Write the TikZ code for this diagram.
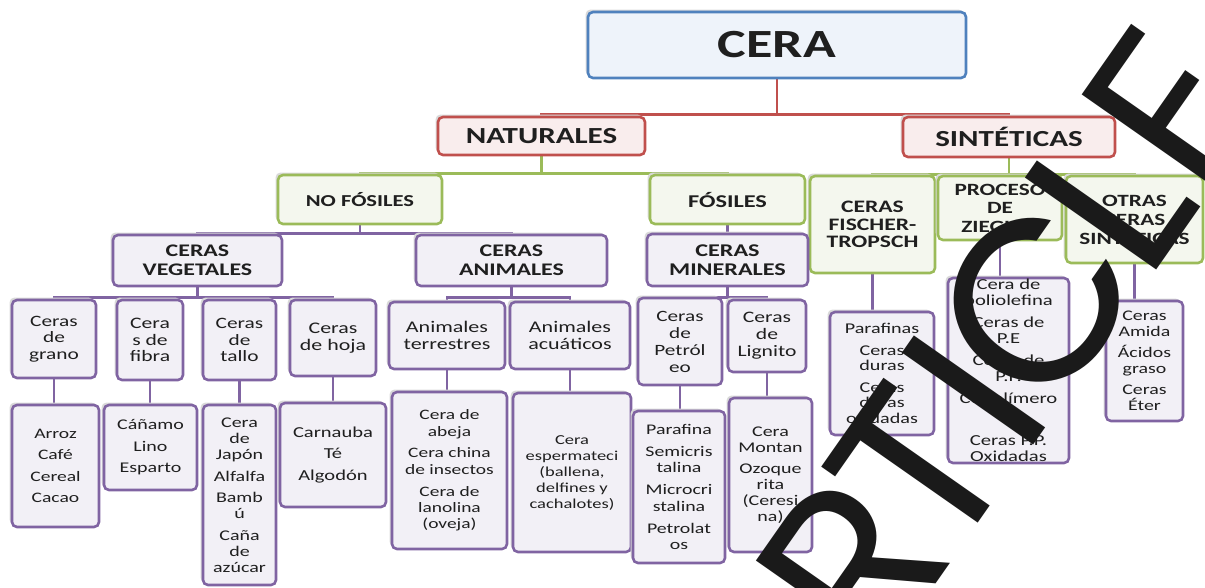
\documentclass[tikz,border=0pt]{standalone}
\usepackage{fontspec}
\setmainfont{Carlito}[FakeStretch=1.35]
\newfontfamily\wmfont{Poppins}
\usetikzlibrary{backgrounds,shadows}
\definecolor{bborder}{HTML}{4F81BD}
\definecolor{bfill}{HTML}{EEF3FA}
\definecolor{rborder}{HTML}{C0504D}
\definecolor{rfill}{HTML}{F9EDED}
\definecolor{gborder}{HTML}{9BBB59}
\definecolor{gfill}{HTML}{F4F7EE}
\definecolor{pborder}{HTML}{8064A2}
\definecolor{pfill}{HTML}{F2F0F6}
\definecolor{txt}{HTML}{1F1F1F}
\definecolor{wmcol}{HTML}{1A1A1A}
\begin{document}
\begin{tikzpicture}[x=1pt,y=-1pt,
  box/.style={draw, rounded corners=5pt, line width=2.6pt, align=center, inner sep=0pt, text=txt,
    general shadow={fill=black!15, shadow xshift=-2.5pt, shadow yshift=2.5pt}},
  bluebox/.style={box, draw=bborder, fill=bfill},
  redbox/.style={box, draw=rborder, fill=rfill},
  greenbox/.style={box, draw=gborder, fill=gfill},
  purplebox/.style={box, draw=pborder, fill=pfill},
  conn/.style={line width=2.6pt},
  rconn/.style={conn, draw=rborder},
  gconn/.style={conn, draw=gborder},
  pconn/.style={conn, draw=pborder},
  fs/.style 2 args={font=\fontsize{#1}{#2}\selectfont},
  fb/.style 2 args={font=\fontsize{#1}{#2}\selectfont\bfseries},
  wm/.style={font=\fontsize{230}{230}\selectfont\wmfont, text=wmcol, rotate=55, anchor=base, inner sep=0pt}
]
\useasboundingbox (0,0) rectangle (1205,587);
\clip (0,0) rectangle (1205,587);
% level 0-1
\node[bluebox, fb={40}{44}, minimum width=378, minimum height=66] (cera) at (777,45) {CERA};
\node[redbox, fb={23}{26}, minimum width=207, minimum height=38] (nat) at (541.5,136) {NATURALES};
\node[redbox, fb={23}{26}, minimum width=212, minimum height=40] (sint) at (1009,137) {SINTÉTICAS};
% level 2
\node[greenbox, fb={16.7}{19}, minimum width=164, minimum height=49] (nofos) at (360,199.5) {NO FÓSILES};
\node[greenbox, fb={18}{19}, minimum width=155, minimum height=49] (fos) at (727.5,199.5) {FÓSILES};
\node[greenbox, fb={17.5}{17.8}, minimum width=125, minimum height=97] (fischer) at (872.5,224.5) {CERAS\\FISCHER-\\TROPSCH};
\node[greenbox, fb={17.2}{18.5}, minimum width=124, minimum height=64] (ziegler) at (1000,208) {PROCESO\\DE\\ZIEGLER};
\node[greenbox, fb={17.2}{19}, minimum width=137, minimum height=87] (otras) at (1134.5,219.5) {OTRAS\\CERAS\\SINTÉTICAS};
% level 3
\node[purplebox, fb={17.7}{18.5}, minimum width=169, minimum height=51] (veg) at (197.5,260.5) {CERAS\\VEGETALES};
\node[purplebox, fb={17.7}{18.5}, minimum width=191, minimum height=51] (ani) at (511.5,260.5) {CERAS\\ANIMALES};
\node[purplebox, fb={17.9}{18.5}, minimum width=161, minimum height=52] (mine) at (727.5,260) {CERAS\\MINERALES};
% level 4
\node[purplebox, fs={15.8}{16.7}, minimum width=84, minimum height=78] (grano) at (54,339) {Ceras\\de\\grano};
\node[purplebox, fs={16}{16.7}, minimum width=66, minimum height=80] (fibra) at (150,340) {Cera\\s de\\fibra};
\node[purplebox, fs={15.8}{16.7}, minimum width=73, minimum height=80] (tallo) at (239.5,340) {Ceras\\de\\tallo};
\node[purplebox, fs={16.2}{16.7}, minimum width=86, minimum height=76] (hoja) at (333,338) {Ceras\\de hoja};
\node[purplebox, fs={16.3}{16.7}, minimum width=116, minimum height=67] (terr) at (447,335.5) {Animales\\terrestres};
\node[purplebox, fs={16.3}{16.7}, minimum width=120, minimum height=67] (acua) at (570,335.5) {Animales\\acuáticos};
\node[purplebox, fs={15.7}{17}, minimum width=84, minimum height=87] (petro) at (680,341.5) {Ceras\\de\\Petról\\eo};
\node[purplebox, fs={16}{17}, minimum width=78, minimum height=72] (lign) at (767,336) {Ceras\\de\\Lignito};
% leaves
\node[purplebox, fs={14.5}{16}, minimum width=87, minimum height=122] (arroz) at (55.5,466) {Arroz\\[5.5pt]Café\\[5.5pt]Cereal\\[5.5pt]Cacao};
\node[purplebox, fs={14.8}{16}, minimum width=93, minimum height=85] (canamo) at (150.5,447.5) {Cáñamo\\[5.5pt]Lino\\[5.5pt]Esparto};
\node[purplebox, fs={14.8}{16}, minimum width=73, minimum height=180] (japon) at (239.5,495) {Cera\\de\\Japón\\[5.5pt]Alfalfa\\[5.5pt]Bamb\\ú\\[5.5pt]Caña\\de\\azúcar};
\node[purplebox, fs={15.2}{16}, minimum width=106, minimum height=104] (carna) at (333,455) {Carnauba\\[5.5pt]Té\\[5.5pt]Algodón};
\node[purplebox, fs={14.4}{16.3}, minimum width=115, minimum height=157] (abeja) at (449.5,470.5) {Cera de\\abeja\\[5.5pt]Cera china\\de insectos\\[5.5pt]Cera de\\lanolina\\(oveja)};
\node[purplebox, fs={13.7}{16}, minimum width=118, minimum height=159] (esper) at (572,472.5) {Cera\\espermateci\\(ballena,\\delfines y\\cachalotes)};
\node[purplebox, fs={14.7}{16.5}, minimum width=92, minimum height=152] (paraf) at (679,487) {Parafina\\[5.5pt]Semicris\\talina\\[5.5pt]Microcri\\stalina\\[5.5pt]Petrolat\\os};
\node[purplebox, fs={14.8}{16}, minimum width=83, minimum height=154] (montan) at (770.5,475) {Cera\\Montan\\[5.5pt]Ozoque\\rita\\(Ceresi\\na)};
\node[purplebox, fs={14.9}{15.5}, minimum width=104, minimum height=123] (parafs) at (882,373.5) {Parafinas\\[6pt]Ceras\\duras\\[6pt]Ceras\\duras\\oxidadas};
\node[purplebox, fs={15.3}{16}, minimum width=121, minimum height=185] (polio) at (1008.5,370.5) {Cera de\\poliolefina\\[6pt]Ceras de\\P.E\\[6pt]Ceras de\\P.P.\\[6pt]Copolímero\\[26pt]Ceras P.P.\\Oxidadas};
\node[purplebox, fs={14.7}{15.5}, minimum width=77, minimum height=120] (amida) at (1144.5,361) {Ceras\\Amida\\[6pt]Ácidos\\graso\\[6pt]Ceras\\Éter};
% connectors
\begin{pgfonlayer}{background}
\draw[rconn] (cera.south) -- ++(0,35) -| (nat.north);
\draw[rconn] (cera.south) -- ++(0,35) -| (sint.north);
\draw[gconn] (nat.south) -- ++(0,17) -| (nofos.north);
\draw[gconn] (nat.south) -- ++(0,17) -| (fos.north);
\draw[gconn] (sint.south) -- ++(0,16) -| (fischer.north);
\draw[gconn] (sint.south) -- ++(0,16) -| (ziegler.north);
\draw[gconn] (sint.south) -- ++(0,16) -| (otras.north);
\draw[pconn] (nofos.south) -- ++(0,8) -| (veg.north);
\draw[pconn] (nofos.south) -- ++(0,8) -| (ani.north);
\draw[pconn] (fos.south) -- (mine.north);
\foreach \c in {grano,fibra,tallo,hoja}{\draw[pconn] (veg.south) -- ++(0,10) -| (\c.north);}
\foreach \c in {terr,acua}{\draw[pconn] (ani.south) -- ++(0,10) -| (\c.north);}
\foreach \c in {petro,lign}{\draw[pconn] (mine.south) -- ++(0,10) -| (\c.north);}
\draw[pconn] (grano.south) -- (grano.south |- arroz.north);
\draw[pconn] (fibra.south) -- (fibra.south |- canamo.north);
\draw[pconn] (tallo.south) -- (tallo.south |- japon.north);
\draw[pconn] (hoja.south) -- (hoja.south |- carna.north);
\draw[pconn] (terr.south) -- (terr.south |- abeja.north);
\draw[pconn] (acua.south) -- (acua.south |- esper.north);
\draw[pconn] (petro.south) -- (petro.south |- paraf.north);
\draw[pconn] (lign.south) -- (lign.south |- montan.north);
\draw[pconn] (fischer.south) -- (fischer.south |- parafs.north);
\draw[pconn] (ziegler.south) -- (ziegler.south |- polio.north);
\draw[pconn] (otras.south) -- (otras.south |- amida.north);
\end{pgfonlayer}
% watermark
\node[wm] (wR) at (917.4,610.6) {R};
\node[wm] (wT) at (984.6,514.8) {T};
\node[wm] (wI) at (1039.7,436.2) {I};
\node[wm] (wC) at (1101.7,347.7) {C};
\node[wm] (wL) at (1174.6,243.7) {L};
\node[wm] (wE) at (1237.7,153.6) {E};
\end{tikzpicture}
\end{document}
